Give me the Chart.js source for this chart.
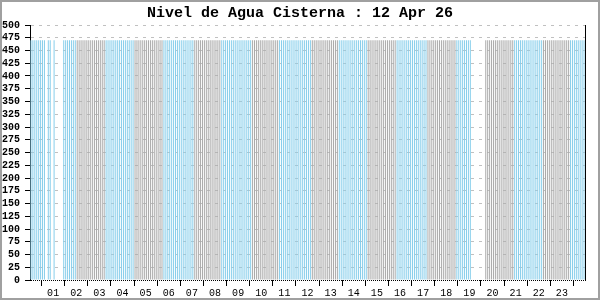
<!DOCTYPE html>
<html>
<head>
<meta charset="utf-8">
<script src="https://cdn.jsdelivr.net/npm/chart.js@4"></script>
<style>
  html, body { margin: 0; padding: 0; background: #fff; }
  #wrap { width: 600px; height: 300px; }
</style>
</head>
<body>
<div id="wrap"><canvas id="chart" width="600" height="300"></canvas></div>
<script>
// 5-minute samples, one row per hour (12 per row)
const level = [
  470, 470, 470, 470, 470, 470, 470, 470, null, 470, 470, null,
  470, null, null, null, null, 470, 470, 470, 470, 470, 470, 470,
  470, 470, 470, 470, 470, 470, 470, 470, 470, 470, 470, 470,
  470, 470, 470, 470, 470, 470, 470, 470, 470, 470, 470, 470,
  470, 470, 470, 470, 470, 470, 470, 470, 470, 470, 470, 470,
  470, 470, 470, 470, 470, 470, 470, 470, 470, 470, 470, 470,
  470, 470, 470, 470, 470, 470, 470, 470, 470, 470, 470, 470,
  470, 470, 470, 470, 470, 470, 470, 470, 470, 470, 470, 470,
  470, 470, 470, 470, 470, 470, 470, 470, 470, 470, 470, 470,
  470, 470, 470, 470, 470, 470, 470, 470, 470, 470, 470, 470,
  470, 470, 470, 470, 470, 470, 470, 470, 470, 470, 470, 470,
  470, 470, 470, 470, 470, 470, 470, 470, 470, 470, 470, 470,
  470, 470, 470, 470, 470, 470, 470, 470, 470, 470, 470, 470,
  470, 470, 470, 470, 470, 470, 470, 470, 470, 470, 470, 470,
  470, 470, 470, 470, 470, 470, 470, 470, 470, 470, 470, 470,
  470, 470, 470, 470, 470, 470, 470, 470, 470, 470, 470, 470,
  470, 470, 470, 470, 470, 470, 470, 470, 470, 470, 470, 470,
  470, 470, 470, 470, 470, 470, 470, 470, 470, 470, 470, 470,
  470, 470, 470, 470, 470, 470, 470, 470, 470, 470, 470, 470,
  470, null, null, null, null, null, null, null, 470, 470, 470, 470,
  470, 470, 470, 470, 470, 470, 470, 470, 470, 470, 470, 470,
  470, 470, 470, 470, 470, 470, 470, 470, 470, 470, 470, 470,
  470, 470, 470, 470, 470, 470, 470, 470, 470, 470, 470, 470,
  470, 470, 470, 470, 470, 470, 470, 470, 470, 470, 470, 470
];

// 1 = blue sample, 0 = grey sample
const pumpOn = [
  1, 1, 1, 1, 1, 1, 1, 1, 1, 1, 1, 1,
  1, 1, 1, 1, 1, 1, 1, 1, 1, 1, 1, 1,
  0, 0, 0, 0, 0, 0, 0, 0, 0, 0, 0, 0,
  0, 0, 0, 1, 1, 1, 1, 1, 1, 1, 1, 1,
  1, 1, 1, 1, 1, 1, 0, 0, 0, 0, 0, 0,
  0, 0, 0, 0, 0, 0, 0, 0, 0, 1, 1, 1,
  1, 1, 1, 1, 1, 1, 1, 1, 1, 1, 1, 1,
  1, 0, 0, 0, 0, 0, 0, 0, 0, 0, 0, 0,
  0, 0, 0, 1, 1, 1, 1, 1, 1, 1, 1, 1,
  1, 1, 1, 1, 1, 1, 1, 0, 0, 0, 0, 0,
  0, 0, 0, 0, 0, 0, 0, 0, 0, 1, 1, 1,
  1, 1, 1, 1, 1, 1, 1, 1, 1, 1, 1, 1,
  1, 1, 0, 0, 0, 0, 0, 0, 0, 0, 0, 0,
  0, 0, 0, 0, 1, 1, 1, 1, 1, 1, 1, 1,
  1, 1, 1, 1, 1, 1, 1, 0, 0, 0, 0, 0,
  0, 0, 0, 0, 0, 0, 0, 0, 0, 0, 1, 1,
  1, 1, 1, 1, 1, 1, 1, 1, 1, 1, 1, 1,
  1, 1, 0, 0, 0, 0, 0, 0, 0, 0, 0, 0,
  0, 0, 0, 0, 0, 1, 1, 1, 1, 1, 1, 1,
  1, 0, 0, 0, 0, 0, 0, 0, 0, 0, 0, 0,
  0, 0, 0, 0, 0, 0, 0, 0, 0, 0, 0, 1,
  1, 1, 1, 1, 1, 1, 1, 1, 1, 1, 1, 1,
  1, 1, 0, 0, 0, 0, 0, 0, 0, 0, 0, 0,
  0, 0, 0, 0, 1, 1, 1, 1, 1, 1, 1, 1
];

const sampleMinutes = level.map((_, i) => i * 5 + 2.5);
const yTicks = { min: 0, max: 500, step: 25 };
const xTicks = { min: 0, max: 1440, step: 60 };
const chartTitle = 'Nivel de Agua Cisterna : 12 Apr 26';

const blue = '#87ceeb';
const grey = '#aaaaaa';
const monoFont = "'Liberation Mono', 'DejaVu Sans Mono', monospace";

const points = level.map((v, i) => ({ x: sampleMinutes[i], y: v }));
const colors = pumpOn.map(s => s ? blue : grey);

const frame = {
  id: 'frame',
  beforeDraw(chart) {
    const ctx = chart.ctx;
    ctx.save();
    ctx.fillStyle = '#fff';
    ctx.fillRect(0, 0, chart.width, chart.height);
    ctx.strokeStyle = '#a0a0a0';
    ctx.lineWidth = 2;
    ctx.strokeRect(1, 1, chart.width - 2, chart.height - 2);
    ctx.restore();
  }
};

new Chart(document.getElementById('chart').getContext('2d'), {
  type: 'bar',
  data: {
    datasets: [{
      data: points,
      backgroundColor: colors,
      borderWidth: 0,
      barThickness: 1,
      inflateAmount: 0,
      grouped: false
    }]
  },
  options: {
    responsive: false,
    animation: false,
    layout: { padding: 0 },
    plugins: {
      legend: { display: false },
      tooltip: { enabled: false },
      title: {
        display: true,
        text: chartTitle,
        color: '#000',
        font: { family: monoFont, size: 15, weight: 'bold' },
        padding: { top: 4, bottom: 3 }
      }
    },
    scales: {
      x: {
        type: 'linear',
        min: xTicks.min,
        max: xTicks.max,
        offset: false,
        grid: { drawOnChartArea: false, drawTicks: true, tickLength: 6, color: '#000' },
        border: { display: false },
        ticks: {
          stepSize: xTicks.step,
          autoSkip: false,
          maxRotation: 0,
          padding: 1,
          color: '#000',
          font: { family: monoFont, size: 10 },
          callback: v => (v <= 0 || v >= 1440) ? '' : String(v / 60).padStart(2, '0')
        }
      },
      y: {
        min: yTicks.min,
        max: yTicks.max,
        afterFit: s => { s.width = 30; },
        grid: {
          drawTicks: true,
          tickLength: 5,
          color: c => (c.tick && c.tick.value === 0) ? '#000' : '#c0c0c0',
          tickColor: '#000'
        },
        border: {
          display: true,
          color: '#000',
          width: 1,
          dash: c => (c.tick && c.tick.value === 0) ? [1, 1] : [3, 5]
        },
        ticks: {
          stepSize: yTicks.step,
          autoSkip: false,
          padding: 5,
          color: '#000',
          font: { family: monoFont, size: 10, weight: 'bold' }
        }
      },
      y2: {
        position: 'right',
        min: yTicks.min,
        max: yTicks.max,
        afterFit: s => { s.width = 15; },
        grid: { drawOnChartArea: false, drawTicks: false },
        border: { display: true, color: '#000', width: 1 },
        ticks: { display: false }
      }
    }
  },
  plugins: [frame]
});
</script>
</body>
</html>
